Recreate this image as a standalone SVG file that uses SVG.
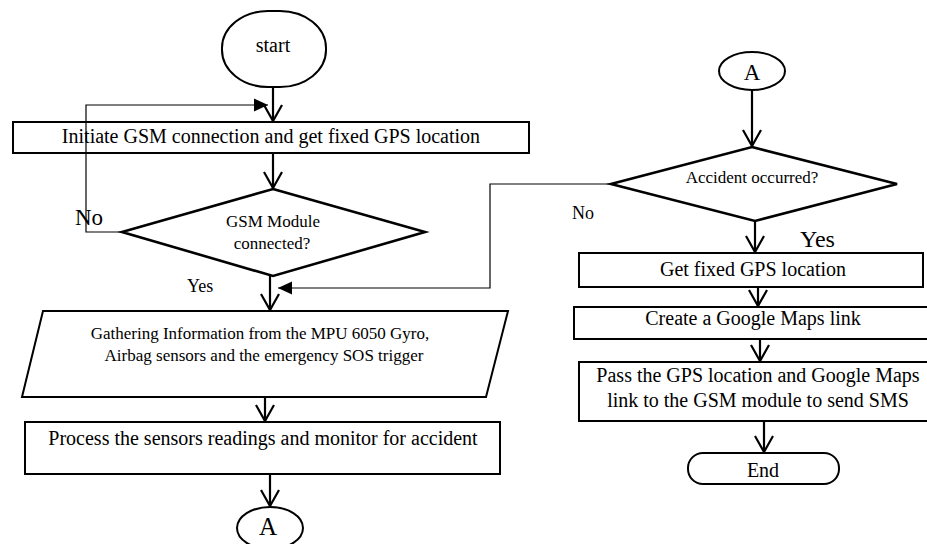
<svg xmlns="http://www.w3.org/2000/svg" width="927" height="544" viewBox="0 0 927 544">
<style>
.s{fill:#fff;stroke:#000;stroke-width:2}
.d{fill:#fff;stroke:#000;stroke-width:2.6}
.t{font-family:"Liberation Serif","Times New Roman",serif;fill:#000;text-anchor:middle}
.l{font-family:"Liberation Serif","Times New Roman",serif;fill:#000}
.c{fill:none;stroke:#000;stroke-width:2.2}
.f{fill:none;stroke:#000;stroke-width:1.2}
</style>
<defs>
<marker id="v" markerUnits="userSpaceOnUse" viewBox="-20 -12 24 24" markerWidth="24" markerHeight="24" refX="0" refY="0" orient="auto" overflow="visible">
<path d="M-16,-9 L0,0 L-16,9" fill="none" stroke="#000" stroke-width="2.2"/>
</marker>
<marker id="fa" markerUnits="userSpaceOnUse" viewBox="-16 -8 18 16" markerWidth="18" markerHeight="16" refX="0" refY="0" orient="auto" overflow="visible">
<path d="M-14,-6.5 L0,0 L-14,6.5 Z" fill="#000"/>
</marker>
</defs>
<rect width="927" height="544" fill="#fff"/>

<g id="start"><rect class="s" x="222" y="11" width="104" height="76" rx="46" ry="37"/><text class="t" x="273" y="52" font-size="20">start</text></g>
<g id="init"><rect class="s" x="13" y="122" width="516" height="31"/><text class="t" x="271" y="143" font-size="20">Initiate GSM connection and get fixed GPS location</text></g>
<g id="gsmcheck"><polygon class="d" points="273,189 425,232 273,276 122,232"/><text class="t" x="273" y="227" font-size="17">GSM Module</text><text class="t" x="272" y="249" font-size="17">connected?</text></g>
<g id="gather"><polygon class="s" points="43,311 508,311 486,397 22,397"/><text class="t" x="260" y="339" font-size="17">Gathering Information from the MPU 6050 Gyro,</text><text class="t" x="264" y="361" font-size="17">Airbag sensors and the emergency SOS trigger</text></g>
<g id="process"><rect class="s" x="25" y="422" width="475" height="52"/><text class="t" x="263" y="445" font-size="20">Process the sensors readings and monitor for accident</text></g>
<g id="connA1"><ellipse class="s" cx="270" cy="528" rx="33" ry="21"/><text class="t" x="268" y="535" font-size="25">A</text></g>

<g id="connA2"><ellipse class="s" cx="752" cy="71" rx="33" ry="19"/><text class="t" x="752" y="80" font-size="23">A</text></g>
<g id="accident"><polygon class="d" points="752,147 897,184 755,221 611,184"/><text class="t" x="752" y="183" font-size="17">Accident occurred?</text></g>
<g id="getgps"><rect class="s" x="579" y="253" width="344" height="34"/><text class="t" x="753" y="276" font-size="20">Get fixed GPS location</text></g>
<g id="maps"><rect class="s" x="574" y="307" width="360" height="32"/><text class="t" x="753" y="325" font-size="20">Create a Google Maps link</text></g>
<g id="send"><rect class="s" x="579" y="362" width="360" height="59"/><text class="t" x="758" y="382" font-size="20">Pass the GPS location and Google Maps</text><text class="t" x="758" y="407" font-size="20">link to the GSM module to send SMS</text></g>
<g id="end"><rect class="s" x="688" y="453" width="151" height="31" rx="15" ry="15"/><text class="t" x="763" y="477" font-size="20">End</text></g>

<g id="connectors">
<line class="c" x1="273" y1="87" x2="273" y2="121" marker-end="url(#v)"/>
<line class="c" x1="273" y1="153" x2="273" y2="188" marker-end="url(#v)"/>
<line class="c" x1="270" y1="276" x2="270" y2="310" marker-end="url(#v)"/>
<line class="c" x1="265" y1="397" x2="265" y2="421" marker-end="url(#v)"/>
<line class="c" x1="270" y1="474" x2="270" y2="506" marker-end="url(#v)"/>
<line class="c" x1="752" y1="90" x2="752" y2="146" marker-end="url(#v)"/>
<line class="c" x1="755" y1="221" x2="755" y2="252" marker-end="url(#v)"/>
<line class="c" x1="758" y1="287" x2="758" y2="306" marker-end="url(#v)"/>
<line class="c" x1="760" y1="339" x2="760" y2="361" marker-end="url(#v)"/>
<line class="c" x1="764" y1="421" x2="764" y2="452" marker-end="url(#v)"/>
<polyline class="f" points="122,232 86,232 86,105 268,105" marker-end="url(#fa)"/>
<polyline class="f" points="611,184 490,184 490,288 278,288" marker-end="url(#fa)"/>
</g>

<g id="labels">
<text class="l" x="75" y="225" font-size="23">No</text>
<text class="l" x="187" y="292" font-size="18">Yes</text>
<text class="l" x="572" y="219" font-size="18">No</text>
<text class="l" x="800" y="247" font-size="24">Yes</text>
</g>
</svg>
